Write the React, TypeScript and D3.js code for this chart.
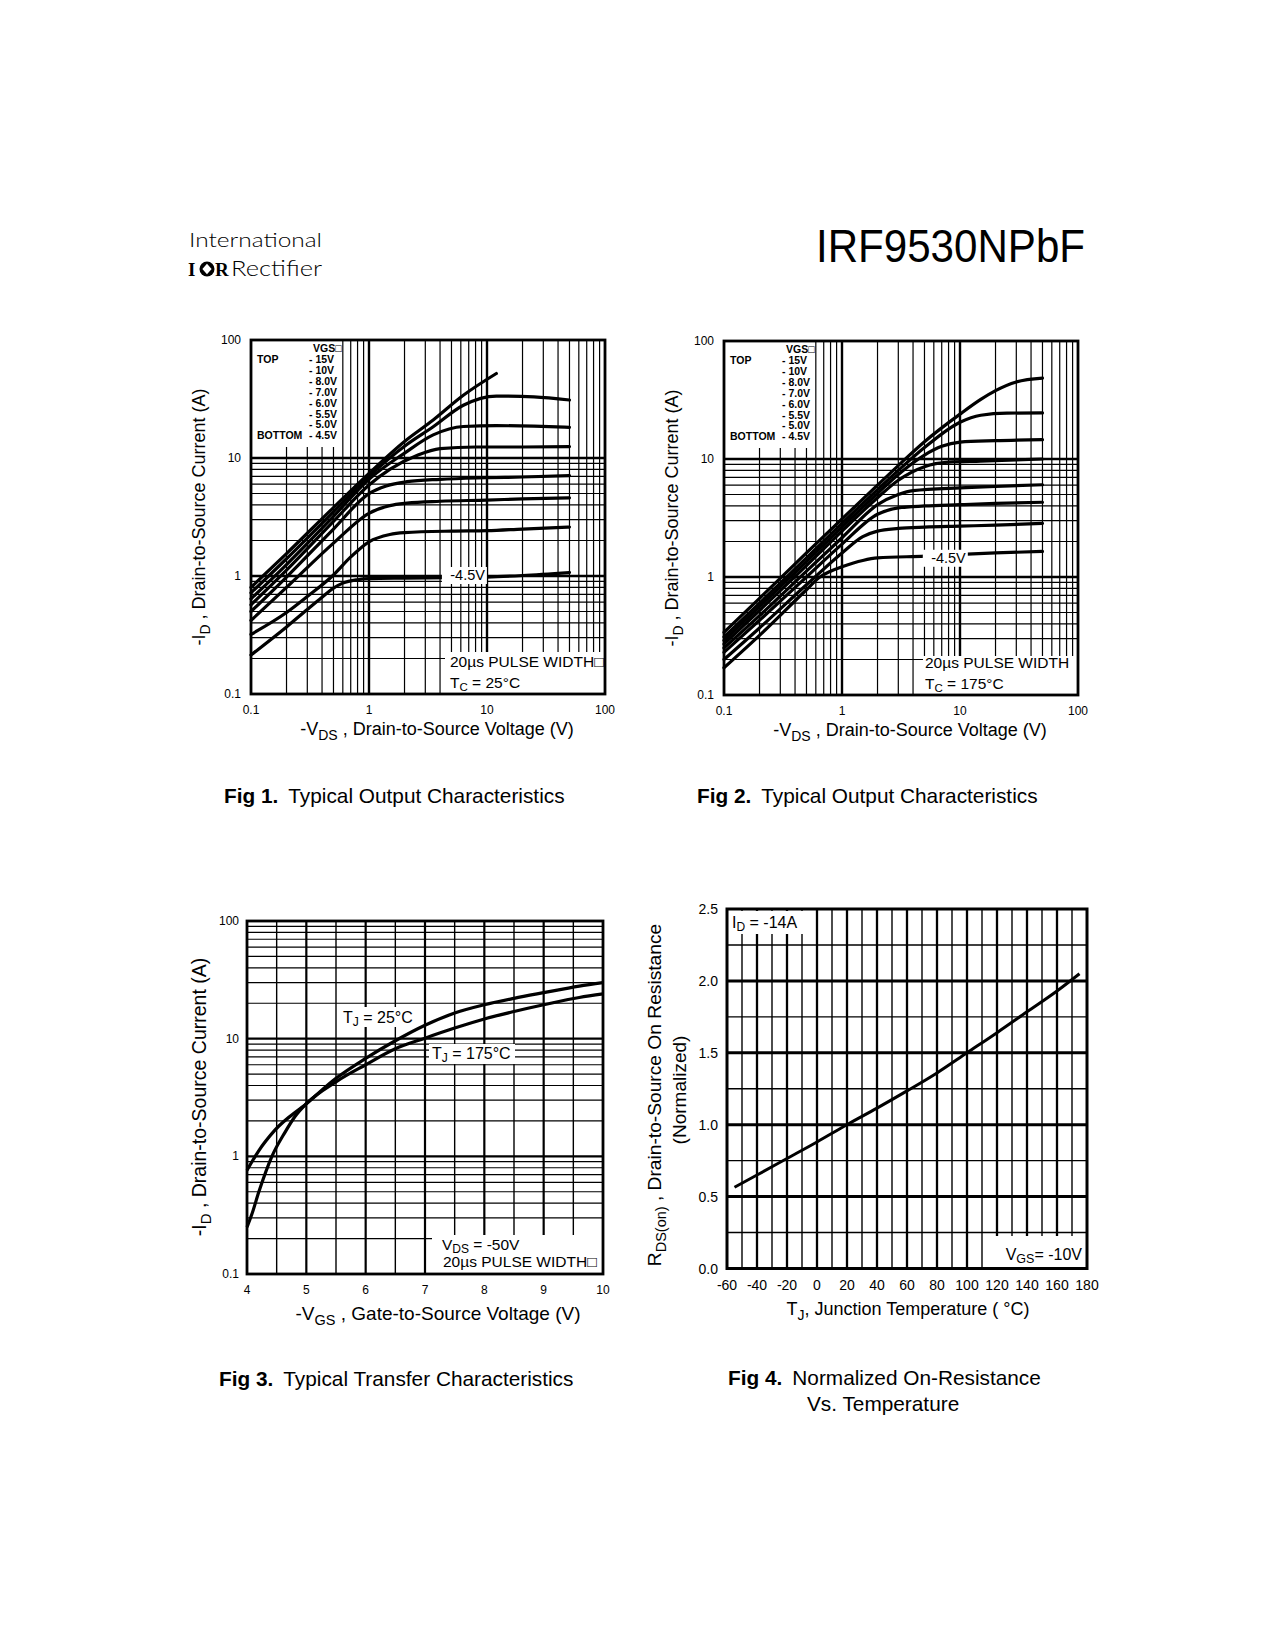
import React from 'react';
import * as d3 from 'd3';

type Pt = [number, number];

// Fig 1, Tc = 25°C : [-VDS (V), -ID (A)] per VGS curve
const fig1Vgs15: Pt[] = [[0.1, 0.8], [0.2, 1.55], [0.5, 3.8], [1, 7.4], [2, 13.8], [3.5, 21], [6.3, 34], [12, 52]];
const fig1Vgs10: Pt[] = [[0.1, 0.72], [0.2, 1.4], [0.5, 3.5], [1, 7.0], [2, 12.6], [3.5, 18.4], [6.3, 28], [12, 33.5], [25, 33], [50, 31]];
const fig1Vgs8: Pt[] = [[0.1, 0.64], [0.2, 1.25], [0.5, 3.2], [1, 6.6], [2, 11], [3.5, 15.7], [6.3, 18.5], [12, 18.8], [25, 18.6], [50, 18.2]];
const fig1Vgs7: Pt[] = [[0.1, 0.57], [0.2, 1.12], [0.5, 2.9], [1, 5.9], [1.5, 8.0], [2.6, 10.6], [4, 12], [8, 12.4], [20, 12.4], [50, 12.5]];
const fig1Vgs6: Pt[] = [[0.1, 0.5], [0.2, 0.98], [0.5, 2.5], [1, 5.0], [1.4, 5.8], [2.1, 6.3], [4, 6.6], [10, 6.8], [20, 6.9], [50, 7.1]];
const fig1Vgs55: Pt[] = [[0.1, 0.42], [0.2, 0.8], [0.5, 1.9], [1, 3.4], [1.5, 3.95], [2.1, 4.15], [4, 4.3], [10, 4.4], [20, 4.5], [50, 4.6]];
const fig1Vgs5: Pt[] = [[0.1, 0.32], [0.2, 0.49], [0.3, 0.67], [0.5, 1.02], [0.7, 1.45], [1, 1.95], [1.5, 2.25], [2, 2.33], [5, 2.4], [10, 2.42], [20, 2.5], [50, 2.6]];
const fig1Vgs45: Pt[] = [[0.1, 0.214], [0.2, 0.37], [0.3, 0.52], [0.4, 0.66], [0.5, 0.79], [0.6, 0.87], [0.8, 0.93], [1, 0.95], [2, 0.96], [5, 0.97], [10, 0.98], [20, 1.01], [50, 1.07]];

// Fig 2, Tc = 175°C
const fig2Vgs15: Pt[] = [[0.1, 0.34], [0.2, 0.66], [0.5, 1.6], [1, 3.1], [2, 6.0], [3, 8.8], [5, 14], [10, 24], [15, 32], [20, 38], [30, 45], [50, 48.5]];
const fig2Vgs10: Pt[] = [[0.1, 0.31], [0.2, 0.6], [0.5, 1.45], [1, 2.85], [2, 5.5], [3, 8], [5, 12.5], [10, 20.5], [15, 23.5], [25, 24.5], [50, 24.6]];
const fig2Vgs8: Pt[] = [[0.1, 0.29], [0.2, 0.56], [0.5, 1.35], [1, 2.65], [2, 5.1], [3, 7.4], [5, 10.8], [7, 12.8], [10, 13.9], [20, 14.3], [50, 14.6]];
const fig2Vgs7: Pt[] = [[0.1, 0.27], [0.2, 0.52], [0.5, 1.25], [1, 2.45], [2, 4.7], [3, 6.6], [5, 8.6], [8, 9.4], [15, 9.6], [50, 10]];
const fig2Vgs6: Pt[] = [[0.1, 0.25], [0.2, 0.47], [0.5, 1.12], [1, 2.15], [2, 4.1], [3, 5.0], [4, 5.4], [10, 5.7], [20, 5.85], [50, 6.05]];
const fig2Vgs55: Pt[] = [[0.1, 0.23], [0.2, 0.43], [0.5, 1.0], [1, 1.9], [2, 3.4], [3, 3.85], [5, 4.0], [10, 4.1], [20, 4.2], [50, 4.3]];
const fig2Vgs5: Pt[] = [[0.1, 0.2], [0.2, 0.37], [0.5, 0.86], [1, 1.6], [1.5, 2.2], [2, 2.45], [3, 2.58], [5, 2.65], [10, 2.7], [20, 2.75], [50, 2.85]];
const fig2Vgs45: Pt[] = [[0.1, 0.17], [0.2, 0.32], [0.5, 0.78], [0.65, 1.0], [0.8, 1.12], [1, 1.22], [1.5, 1.38], [2, 1.45], [5, 1.5], [10, 1.55], [20, 1.6], [50, 1.65]];

const vgsLegend = ['- 15V', '- 10V', '- 8.0V', '- 7.0V', '- 6.0V', '- 5.5V', '- 5.0V', '- 4.5V'];
const decadeTicks = [0.1, 1, 10, 100];

// Fig 3: [-VGS (V), -ID (A)]
const fig3Tj25: Pt[] = [[4, 0.76], [4.2, 1.12], [4.47, 1.67], [5, 2.8], [5.5, 4.6], [6, 6.8], [6.5, 9.6], [7, 13], [7.5, 16.5], [8, 19.4], [8.5, 22], [9, 24.6], [9.6, 28], [10, 30]];
const fig3Tj175: Pt[] = [[4, 0.25], [4.08, 0.32], [4.2, 0.5], [4.42, 1.0], [4.64, 1.6], [4.8, 2.15], [5, 2.8], [5.5, 4.3], [6, 6.0], [6.5, 8.2], [7, 10.1], [7.5, 12.3], [8, 14.7], [8.5, 17], [9, 19.4], [9.6, 22.4], [10, 24]];
const fig3VgsTicks = [4, 5, 6, 7, 8, 9, 10];

// Fig 4: TJ (°C) vs normalized RDS(on)
const fig4Temps = [-55, -40, -20, 0, 20, 40, 60, 80, 100, 120, 140, 160, 175];
const fig4Rds = [0.565, 0.65, 0.765, 0.88, 1.0, 1.115, 1.235, 1.36, 1.5, 1.64, 1.785, 1.93, 2.05];
const fig4TempTicks = [-60, -40, -20, 0, 20, 40, 60, 80, 100, 120, 140, 160, 180];
const fig4RdsTicks = [0, 0.5, 1, 1.5, 2, 2.5];

const FONT = '"Liberation Sans", Arial, Helvetica, sans-serif';

function OutputPanel({ left, top, curves, tc, label45, boxDx, boxDy, textDx, glyph, caption }: {
  left: number; top: number; curves: Pt[][]; tc: string; label45: Pt;
  boxDx: number; boxDy: number; textDx: number; glyph: boolean; caption: string;
}) {
  const size = 354;
  const x = d3.scaleLog().domain([0.1, 100]).range([left, left + size]);
  const y = d3.scaleLog().domain([0.1, 100]).range([top + size, top]);
  const minorX = [0.1, 1, 10].flatMap(d => d3.range(2, 10).map(k => d * k));
  const minorY = [0.1, 1].flatMap(d => d3.range(2, 10).map(k => d * k));
  const line = d3.line<Pt>().x(d => x(d[0])).y(d => y(d[1])).curve(d3.curveMonotoneX);
  const lx = x(label45[0]);
  const ly = y(label45[1]);

  return (
    <g fontFamily={FONT}>
      {minorX.map((v, i) => (
        <line key={'mx' + i} x1={x(v)} x2={x(v)} y1={top} y2={top + size} stroke="#000" strokeWidth={1.2} />
      ))}
      {minorY.map((v, i) => (
        <line key={'my' + i} x1={left} x2={left + size} y1={y(v)} y2={y(v)} stroke="#000" strokeWidth={1.2} />
      ))}
      {[1, 10].map(v => (
        <g key={'M' + v}>
          <line x1={x(v)} x2={x(v)} y1={top} y2={top + size} stroke="#000" strokeWidth={2.4} />
          <line x1={left} x2={left + size} y1={y(v)} y2={y(v)} stroke="#000" strokeWidth={2.4} />
        </g>
      ))}
      {/* legend and note backgrounds */}
      <rect x={left + 1} y={top + 1} width={89} height={106} fill="#fff" />
      <rect x={left + boxDx} y={top + boxDy} width={size - boxDx} height={size - boxDy} fill="#fff" />

      {curves.map((c, i) => (
        <path key={'c' + i} d={line(c) || ''} fill="none" stroke="#000" strokeWidth={3.2} strokeLinecap="round" />
      ))}

      <rect x={lx - 43} y={ly - 13} width={45} height={17} fill="#fff" />
      <text x={lx} y={ly} textAnchor="end" fontSize={14.5}>-4.5V</text>

      <g fontSize={10.5} fontWeight="bold">
        <text x={left + 62} y={top + 12}>VGS{'\u25A1'}</text>
        <text x={left + 6} y={top + 23}>TOP</text>
        <text x={left + 6} y={top + 23 + 7 * 10.9}>BOTTOM</text>
        {vgsLegend.map((s, i) => (
          <text key={s} x={left + 58} y={top + 23 + i * 10.9}>{s}</text>
        ))}
      </g>

      <g fontSize={15.5}>
        <text x={left + textDx} y={top + 327}>20µs PULSE WIDTH{glyph ? '\u25A1' : ''}</text>
        <text x={left + textDx} y={top + 347.5}>
          <tspan>T</tspan><tspan dy={3} fontSize={11.5}>C</tspan><tspan dy={-3}>{' = ' + tc}</tspan>
        </text>
      </g>

      <rect x={left} y={top} width={size} height={size} fill="none" stroke="#000" strokeWidth={2.8} />

      {decadeTicks.map(v => (
        <text key={'ty' + v} x={left - 10} y={y(v) + 4} textAnchor="end" fontSize={12}>{v}</text>
      ))}
      {decadeTicks.map(v => (
        <text key={'tx' + v} x={x(v)} y={top + size + 20} textAnchor="middle" fontSize={12}>{v}</text>
      ))}

      <text x={left + 186} y={top + size + 41} textAnchor="middle" fontSize={18}>
        <tspan>-V</tspan><tspan dy={5} fontSize={14}>DS</tspan><tspan dy={-5}> , Drain-to-Source Voltage (V)</tspan>
      </text>
      <text transform={`translate(${left - 46},${top + 177}) rotate(-90)`} textAnchor="middle" fontSize={18}>
        <tspan>-I</tspan><tspan dy={5} fontSize={14}>D</tspan><tspan dy={-5}> , Drain-to-Source Current (A)</tspan>
      </text>

      <text x={left - 27} y={803} fontSize={20.8}>
        <tspan fontWeight="bold">{caption}</tspan>
        <tspan dx={10}>Typical Output Characteristics</tspan>
      </text>
    </g>
  );
}

function TransferPanel() {
  const left = 247, top = 921, w = 356, h = 353;
  const x = d3.scaleLinear().domain([4, 10]).range([left, left + w]);
  const y = d3.scaleLog().domain([0.1, 100]).range([top + h, top]);
  const halfX = d3.range(4.5, 10, 1);
  const intX = d3.range(5, 10, 1);
  const minorY = [0.1, 1, 10].flatMap(d => d3.range(2, 10).map(k => d * k));
  const line = d3.line<Pt>().x(d => x(d[0])).y(d => y(d[1])).curve(d3.curveMonotoneX);

  return (
    <g fontFamily={FONT}>
      {minorY.map((v, i) => (
        <line key={'my' + i} x1={left} x2={left + w} y1={y(v)} y2={y(v)} stroke="#000" strokeWidth={1.2} />
      ))}
      {halfX.map(v => (
        <line key={'hx' + v} x1={x(v)} x2={x(v)} y1={top} y2={top + h} stroke="#000" strokeWidth={1.4} />
      ))}
      {intX.map(v => (
        <line key={'ix' + v} x1={x(v)} x2={x(v)} y1={top} y2={top + h} stroke="#000" strokeWidth={2.2} />
      ))}
      {[1, 10].map(v => (
        <line key={'My' + v} x1={left} x2={left + w} y1={y(v)} y2={y(v)} stroke="#000" strokeWidth={2.4} />
      ))}

      <rect x={left + 185} y={top + 314} width={w - 185} height={h - 314} fill="#fff" />
      <rect x={left + 93} y={top + 86} width={78} height={20} fill="#fff" />
      <rect x={left + 182} y={top + 123} width={86} height={20} fill="#fff" />

      <path d={line(fig3Tj25) || ''} fill="none" stroke="#000" strokeWidth={3.2} />
      <path d={line(fig3Tj175) || ''} fill="none" stroke="#000" strokeWidth={3.2} />

      <g fontSize={16}>
        <text x={left + 96} y={top + 102}>
          <tspan>T</tspan><tspan dy={3} fontSize={12}>J</tspan><tspan dy={-3}> = 25°C</tspan>
        </text>
        <text x={left + 185} y={top + 138}>
          <tspan>T</tspan><tspan dy={3} fontSize={12}>J</tspan><tspan dy={-3}> = 175°C</tspan>
        </text>
      </g>
      <g fontSize={15.5}>
        <text x={left + 195} y={top + 329}>
          <tspan>V</tspan><tspan dy={3} fontSize={12}>DS</tspan><tspan dy={-3}> = -50V</tspan>
        </text>
        <text x={left + 196} y={top + 346}>20µs PULSE WIDTH{'\u25A1'}</text>
      </g>

      <rect x={left} y={top} width={w} height={h} fill="none" stroke="#000" strokeWidth={2.8} />

      {decadeTicks.map(v => (
        <text key={'ty' + v} x={left - 8} y={y(v) + 4} textAnchor="end" fontSize={12}>{v}</text>
      ))}
      {fig3VgsTicks.map(v => (
        <text key={'tx' + v} x={x(v)} y={top + h + 20} textAnchor="middle" fontSize={12}>{v}</text>
      ))}

      <text x={left + 191} y={top + h + 46} textAnchor="middle" fontSize={19}>
        <tspan>-V</tspan><tspan dy={5} fontSize={14.5}>GS</tspan><tspan dy={-5}> , Gate-to-Source Voltage (V)</tspan>
      </text>
      <text transform={`translate(${left - 41},${top + 176}) rotate(-90)`} textAnchor="middle" fontSize={19.5}>
        <tspan>-I</tspan><tspan dy={5} fontSize={15}>D</tspan><tspan dy={-5}> , Drain-to-Source Current (A)</tspan>
      </text>

      <text x={219} y={1386} fontSize={20.8}>
        <tspan fontWeight="bold">Fig 3.</tspan>
        <tspan dx={10}>Typical Transfer Characteristics</tspan>
      </text>
    </g>
  );
}

function ResistancePanel() {
  const left = 727, top = 909, w = 360, h = 359.5;
  const x = d3.scaleLinear().domain([-60, 180]).range([left, left + w]);
  const y = d3.scaleLinear().domain([0, 2.5]).range([top + h, top]);
  const vLines = d3.range(-50, 180, 10);
  const hLines = d3.range(0.25, 2.5, 0.25);
  const pts: Pt[] = fig4Temps.map((t, i) => [t, fig4Rds[i]]);
  const line = d3.line<Pt>().x(d => x(d[0])).y(d => y(d[1])).curve(d3.curveMonotoneX);

  return (
    <g fontFamily={FONT}>
      {vLines.map(v => (
        <line key={'v' + v} x1={x(v)} x2={x(v)} y1={top} y2={top + h} stroke="#000"
          strokeWidth={v % 20 === 0 ? 2.3 : 1.4} />
      ))}
      {hLines.map(v => (
        <line key={'h' + v} x1={left} x2={left + w} y1={y(v)} y2={y(v)} stroke="#000"
          strokeWidth={Math.abs(v * 2 - Math.round(v * 2)) < 1e-6 ? 3 : 1.4} />
      ))}

      <rect x={left + 2} y={top + 2} width={77} height={23} fill="#fff" />
      <rect x={left + 266} y={top + 327} width={w - 267} height={h - 328} fill="#fff" />

      <path d={line(pts) || ''} fill="none" stroke="#000" strokeWidth={3} />

      <g fontSize={16}>
        <text x={left + 5} y={top + 19}>
          <tspan>I</tspan><tspan dy={3} fontSize={12}>D</tspan><tspan dy={-3}> = -14A</tspan>
        </text>
        <text x={left + 355} y={top + 351} textAnchor="end">
          <tspan>V</tspan><tspan dy={3} fontSize={12.5}>GS</tspan><tspan dy={-3}>= -10V</tspan>
        </text>
      </g>

      <rect x={left} y={top} width={w} height={h} fill="none" stroke="#000" strokeWidth={3} />

      {fig4RdsTicks.map(v => (
        <text key={'ty' + v} x={left - 9} y={y(v) + 5} textAnchor="end" fontSize={14}>{v.toFixed(1)}</text>
      ))}
      {fig4TempTicks.map(v => (
        <text key={'tx' + v} x={x(v)} y={top + h + 21} textAnchor="middle" fontSize={14}>{v}</text>
      ))}

      <text x={left + 181} y={top + h + 46} textAnchor="middle" fontSize={18}>
        <tspan>T</tspan><tspan dy={5} fontSize={14}>J</tspan><tspan dy={-5}>, Junction Temperature  ( °C)</tspan>
      </text>
      <text transform={`translate(${left - 66},${top + 186}) rotate(-90)`} textAnchor="middle" fontSize={19.2}>
        <tspan>R</tspan><tspan dy={5} fontSize={14.5}>DS(on)</tspan><tspan dy={-5}> , Drain-to-Source On Resistance</tspan>
      </text>
      <text transform={`translate(${left - 41},${top + 181}) rotate(-90)`} textAnchor="middle" fontSize={19}>
        (Normalized)
      </text>

      <text x={728} y={1385} fontSize={20.8}>
        <tspan fontWeight="bold">Fig 4.</tspan>
        <tspan dx={10}>Normalized On-Resistance</tspan>
      </text>
      <text x={807} y={1411} fontSize={20.8}>Vs. Temperature</text>
    </g>
  );
}

function Header() {
  return (
    <g>
      <text x={189} y={247} fontFamily='Lato, "Open Sans", sans-serif' fontWeight={300} fontSize={20}
        textLength={133} lengthAdjust="spacingAndGlyphs">International</text>
      <text x={188} y={276} fontFamily='"Liberation Serif", serif' fontWeight="bold" fontSize={19}>I</text>
      <circle cx={207} cy={269} r={7.5} fill="#000" />
      <path d="M207 263.8 L211.6 269 L207 274.2 L202.4 269 Z" fill="#fff" />
      <text x={215} y={276} fontFamily='"Liberation Serif", serif' fontWeight="bold" fontSize={19}>R</text>
      <text x={231} y={276} fontFamily='Lato, "Open Sans", sans-serif' fontWeight={300} fontSize={21}
        textLength={91} lengthAdjust="spacingAndGlyphs">Rectifier</text>
      <text x={816} y={262} fontFamily={FONT} fontSize={46} textLength={269}
        lengthAdjust="spacingAndGlyphs">IRF9530NPbF</text>
    </g>
  );
}

export default function App() {
  return (
    <svg width={1275} height={1650} viewBox="0 0 1275 1650"
      style={{ position: 'absolute', left: 0, top: 0, display: 'block', background: '#fff' }}>
      <rect width={1275} height={1650} fill="#fff" />
      <Header />
      <OutputPanel left={251} top={340} tc="25°C" label45={[9.6, 0.925]} boxDx={194} boxDy={312} textDx={199}
        glyph={true} caption="Fig 1."
        curves={[fig1Vgs15, fig1Vgs10, fig1Vgs8, fig1Vgs7, fig1Vgs6, fig1Vgs55, fig1Vgs5, fig1Vgs45]} />
      <OutputPanel left={724} top={341} tc="175°C" label45={[11.2, 1.32]} boxDx={199} boxDy={315} textDx={201}
        glyph={false} caption="Fig 2."
        curves={[fig2Vgs15, fig2Vgs10, fig2Vgs8, fig2Vgs7, fig2Vgs6, fig2Vgs55, fig2Vgs5, fig2Vgs45]} />
      <TransferPanel />
      <ResistancePanel />
    </svg>
  );
}
